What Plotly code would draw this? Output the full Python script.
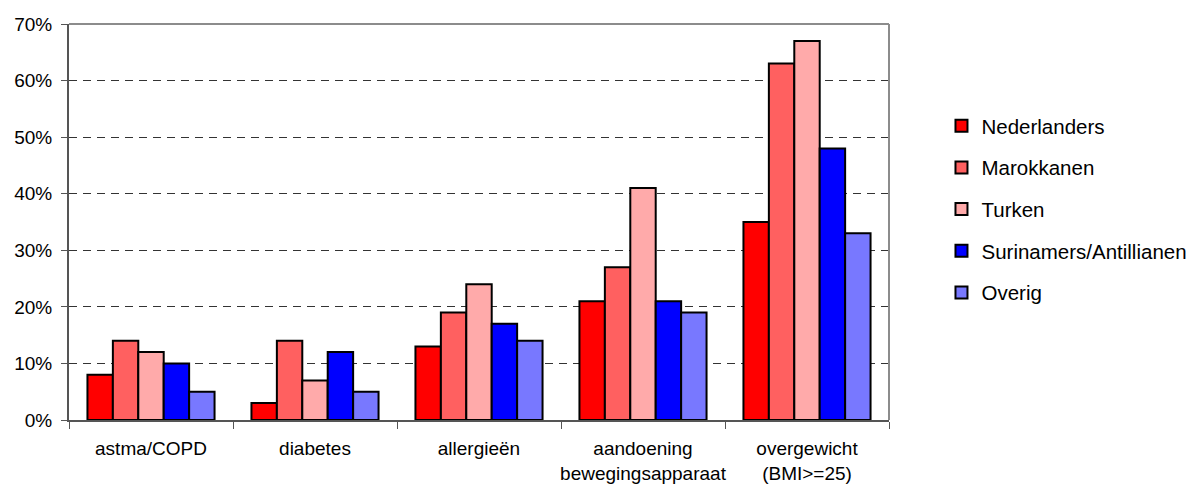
import plotly.graph_objects as go

categories = ["astma/COPD", "diabetes", "allergieën", "aandoening<br>bewegingsapparaat", "overgewicht<br>(BMI>=25)"]
series_names = ["Nederlanders", "Marokkanen", "Turken", "Surinamers/Antillianen", "Overig"]
nederlanders = [8, 3, 13, 21, 35]
marokkanen = [14, 14, 19, 27, 63]
turken = [12, 7, 24, 41, 67]
surinamers = [10, 12, 17, 21, 48]
overig = [5, 5, 14, 19, 33]
colors = ["#FF0000", "#FF6060", "#FFAAAA", "#0000FF", "#7878FF"]
y_ticks = [0, 10, 20, 30, 40, 50, 60, 70]
y_tick_labels = [f"{v}%" for v in y_ticks]

values = [nederlanders, marokkanen, turken, surinamers, overig]

font_family = "Liberation Sans, Arial, sans-serif"

fig = go.Figure()
for i, (name, vals, col) in enumerate(zip(series_names, values, colors)):
    fig.add_trace(go.Bar(
        x=categories, y=vals, name=name, legendgroup=f"g{i}",
        marker=dict(color=col, line=dict(color="black", width=2)),
    ))

fig.update_layout(
    width=1197, height=489,
    margin=dict(l=69, r=308, t=24, b=69, autoexpand=False),
    paper_bgcolor="white", plot_bgcolor="white",
    barmode="group", bargap=0.225, bargroupgap=0,
    font=dict(family=font_family, size=19, color="black"),
    legend=dict(
        x=1.064, y=0.793, xanchor="left", yanchor="top",
        font=dict(size=20.5), tracegroupgap=12,
        traceorder="grouped", entrywidth=150,
    ),
    showlegend=True,
)
fig.update_xaxes(
    showline=True, linecolor="#555555", linewidth=2,
    ticks="outside", tickson="boundaries", ticklen=7, tickcolor="#555555", tickwidth=1,
    showgrid=False, tickfont=dict(size=19), tickangle=0, automargin=False,
    ticklabelstandoff=10,
)
fig.update_yaxes(
    range=[0, 70], tickvals=y_ticks, ticktext=y_tick_labels,
    showline=True, linecolor="#555555", linewidth=2,
    ticks="outside", ticklen=6, tickcolor="#555555",
    showgrid=True, gridcolor="#333333", gridwidth=1, griddash="8px,6px",
    zeroline=False, tickfont=dict(size=19), automargin=False,
    ticklabelstandoff=5,
)
# top and right border of plot area
fig.add_shape(type="line", xref="paper", yref="paper", x0=0, x1=1, y0=1, y1=1,
              line=dict(color="#8c8c8c", width=2))
fig.add_shape(type="line", xref="paper", yref="paper", x0=1, x1=1, y0=0, y1=1,
              line=dict(color="#8c8c8c", width=2))

fig.write_html("out.html")
